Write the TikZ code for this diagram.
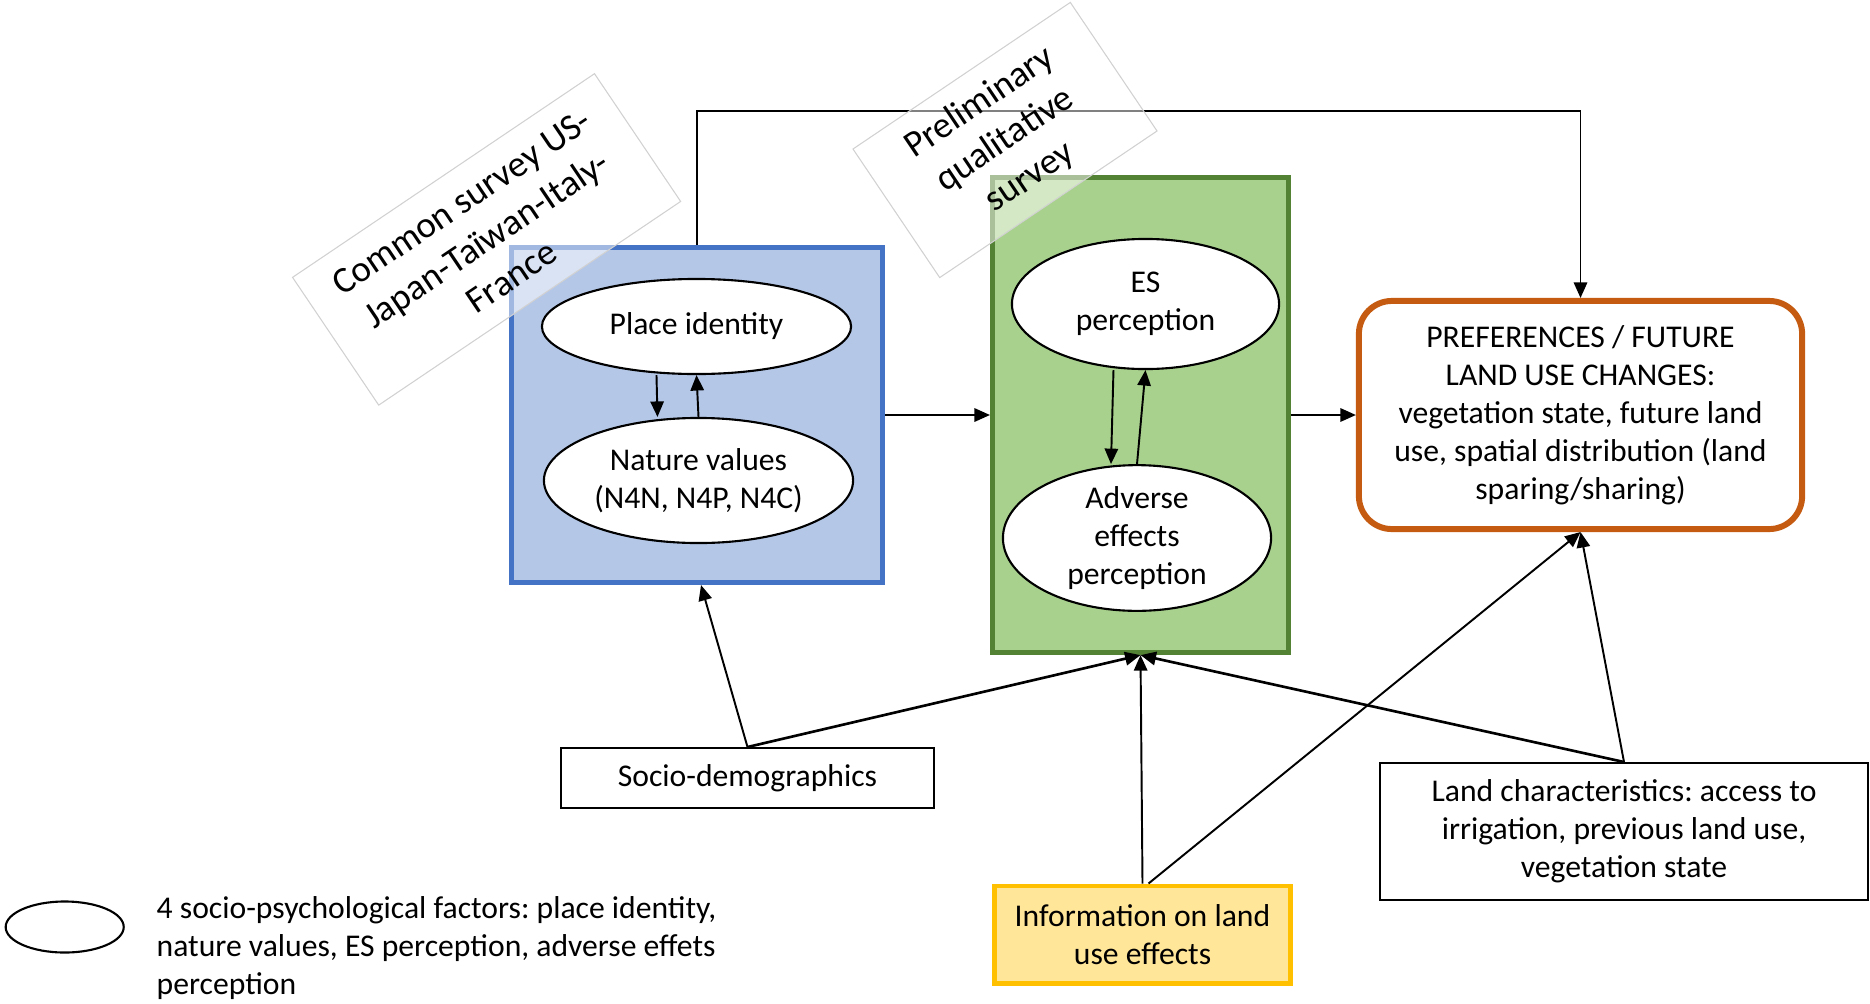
\documentclass[tikz,border=0pt]{standalone}
\usepackage{fontspec}
\setmainfont{Carlito}
\usepackage{tikz}
\usetikzlibrary{positioning}
\usetikzlibrary{shapes.geometric}
\usetikzlibrary{arrows.meta}
\frenchspacing

\definecolor{placeblue}{HTML}{B4C7E7}
\definecolor{placeborder}{HTML}{4472C4}
\definecolor{esgreen}{HTML}{A9D18E}
\definecolor{esborder}{HTML}{548235}
\definecolor{prefborder}{HTML}{C55A11}
\definecolor{infofill}{HTML}{FFE699}
\definecolor{infoborder}{HTML}{FFC000}

\begin{document}
\begin{tikzpicture}[x=0.01cm, y=-0.01cm,
  font=\fontsize{9}{10.8}\selectfont,
  >={Triangle[length=4.4pt,width=3.8pt]},
  factor/.style={ellipse, draw, line width=0.6pt, fill=white, inner sep=0pt, align=center},
  group/.style={rectangle, draw, line width=1.4pt, inner sep=0pt},
  inputbox/.style={rectangle, draw, line width=0.55pt, fill=white, inner sep=0pt, align=center},
  surveybox/.style={rectangle, draw=black!18, line width=0.3pt, fill=white, fill opacity=0.5,
    text opacity=1, rotate=34, align=center, inner sep=0pt,
    font=\fontsize{10.5}{12.8}\selectfont},
  link/.style={->, line width=0.55pt},
  biglink/.style={->, line width=0.75pt}]
\useasboundingbox (0,0) rectangle (1870,1003);

% the two groups of factors and the outcome
\node[group, fill=placeblue, draw=placeborder, minimum width=3.71cm, minimum height=3.35cm] (blue) at (697,415) {};
\node[group, fill=esgreen, draw=esborder, minimum width=2.96cm, minimum height=4.75cm] (green) at (1140.5,415) {};
\node[rectangle, draw=prefborder, line width=1.7pt, rounded corners=0.33cm, fill=white, align=center,
  minimum width=4.43cm, minimum height=2.28cm] (orange) at (1580.5,415)
  {PREFERENCES / FUTURE\\LAND USE CHANGES:\\vegetation state, future land\\use, spatial distribution (land\\sparing/sharing)};

% socio-psychological factors
\node[factor, minimum width=3.09cm, minimum height=0.95cm] (place) at (696.5,326.5) {Place identity};
\node[factor, minimum width=3.09cm, minimum height=1.25cm] (nature) at (698.5,480.5) {Nature values\\(N4N, N4P, N4C)};
\node[factor, minimum width=2.67cm, minimum height=1.30cm] (es) at (1145.5,304) {ES\\perception};
\node[factor, minimum width=2.68cm, minimum height=1.30cm] (adverse) at (1137,538) {Adverse\\effects\\perception};

% inputs
\node[inputbox, minimum width=3.73cm, minimum height=0.60cm] (socio) at (747.5,778) {Socio-demographics};
\node[inputbox, minimum width=4.88cm, minimum height=1.37cm] (land) at (1624,831.5) {Land characteristics: access to\\irrigation, previous land use,\\vegetation state};
\node[inputbox, fill=infofill, draw=infoborder, line width=1.4pt, minimum width=2.95cm, minimum height=0.97cm] (info) at (1142.5,934.5) {Information on land\\use effects};

% legend
\node[factor, minimum width=1.18cm, minimum height=0.51cm] (legend) at (64.7,927) {};
\node[anchor=west, align=left, inner sep=0pt] (legendtext) at (156,948)
  {4 socio-psychological factors: place identity,\\nature values, ES perception, adverse effets\\perception};

% links
\draw[link] ([xshift=-0.4cm]place.south) -- ([xshift=-0.41cm]nature.north);
\draw[link] (nature.north) -- (place.south);
\draw[link] ([xshift=-0.32cm]es.south) -- ([xshift=-0.26cm]adverse.north);
\draw[link] (adverse.north) -- (es.south);
\draw[link] (blue.east) -- (green.west);
\draw[link] (green.east) -- (orange.west);
\draw[link] (blue.north) -- ++(0,-134) -| (orange.north);
\draw[link] (socio.north) -- ([xshift=0.04cm]blue.south);
\draw[biglink] (socio.north) -- (green.south);
\draw[link] (info.north) -- (green.south);
\draw[link] ([xshift=0.06cm]info.north) -- (orange.south);
\draw[biglink] (land.north) -- (green.south);
\draw[link] (land.north) -- (orange.south);

% survey labels on top
\node[surveybox, minimum width=3.64cm, minimum height=1.54cm] (common) at (486.6,239.4)
  {Common survey US-\\Japan-Taïwan-Italy-\\France};
\node[surveybox, minimum width=2.62cm, minimum height=1.55cm] (prelim) at (1005,140)
  {Preliminary\\qualitative\\survey};
\end{tikzpicture}
\end{document}
